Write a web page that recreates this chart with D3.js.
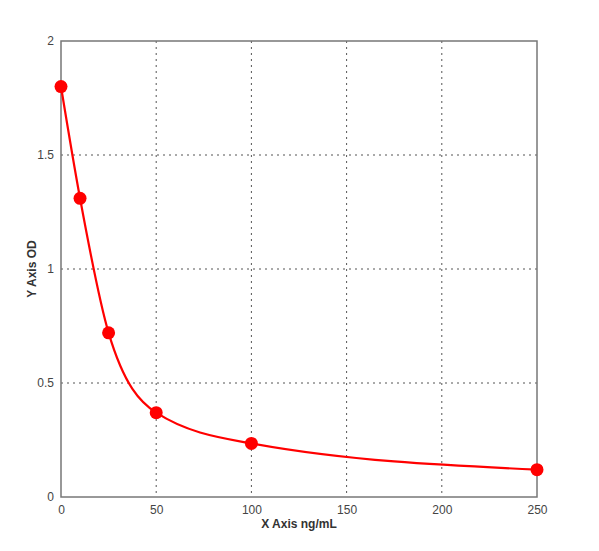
<!DOCTYPE html>
<html>
<head>
<meta charset="utf-8">
<script src="https://cdn.jsdelivr.net/npm/d3@7"></script>
<style>
  body { margin: 0; background: #fff; }
  text { font-family: "Liberation Sans", Arial, sans-serif; }
</style>
</head>
<body>
<svg id="chart" width="599" height="551"></svg>
<script>
// standard curve values
var concentrations = [0, 10, 25, 50, 100, 250];
var odValues = [1.8, 1.31, 0.72, 0.37, 0.235, 0.12];
var xTicks = [0, 50, 100, 150, 200, 250];
var yTicks = [0, 0.5, 1, 1.5, 2];

var svg = d3.select('#chart');
var padding = {t: 41, r: 62, b: 54, l: 61};
var width = 599 - padding.l - padding.r;
var height = 551 - padding.t - padding.b;

var x = d3.scaleLinear().domain([0, 250]).range([0, width]);
var y = d3.scaleLinear().domain([0, 2]).range([height, 0]);

var chartG = svg.append('g')
    .attr('transform', 'translate(' + [padding.l, padding.t] + ')');

// dotted grid
chartG.selectAll('.vgrid')
    .data(xTicks.slice(1, -1))
    .enter().append('line')
    .attr('x1', function(d) { return x(d); })
    .attr('x2', function(d) { return x(d); })
    .attr('y1', 0).attr('y2', height)
    .attr('stroke', '#555').attr('stroke-width', 1)
    .attr('stroke-dasharray', '2,4');

chartG.selectAll('.hgrid')
    .data(yTicks.slice(1, -1))
    .enter().append('line')
    .attr('y1', function(d) { return y(d); })
    .attr('y2', function(d) { return y(d); })
    .attr('x1', 0).attr('x2', width)
    .attr('stroke', '#555').attr('stroke-width', 1)
    .attr('stroke-dasharray', '2,4');

// frame
chartG.append('rect')
    .attr('width', width).attr('height', height)
    .attr('fill', 'none').attr('stroke', '#777').attr('stroke-width', 1.5);

// axes (labels only, the frame draws the lines)
var xAxis = d3.axisBottom(x).tickValues(xTicks).tickSize(0).tickPadding(8);
var xg = chartG.append('g').attr('transform', 'translate(0,' + height + ')').call(xAxis);
var yAxis = d3.axisLeft(y).tickValues(yTicks).tickSize(0).tickPadding(7).tickFormat(d3.format('~g'));
var yg = chartG.append('g').call(yAxis);
[xg, yg].forEach(function(g) {
    g.select('.domain').remove();
    g.selectAll('text')
        .style('font-family', '"Liberation Sans", Arial, sans-serif')
        .style('font-size', '12px')
        .attr('fill', '#444');
});

// fitted curve
var line = d3.line()
    .x(function(d, i) { return x(concentrations[i]); })
    .y(function(d) { return y(d); })
    .curve(d3.curveMonotoneX);

chartG.append('path')
    .datum(odValues)
    .attr('d', line)
    .attr('fill', 'none')
    .attr('stroke', '#ff0000')
    .attr('stroke-width', 2.2);

chartG.selectAll('.pt')
    .data(odValues)
    .enter().append('circle')
    .attr('cx', function(d, i) { return x(concentrations[i]); })
    .attr('cy', function(d) { return y(d); })
    .attr('r', 6.5)
    .attr('fill', '#ff0000');

// axis titles
svg.append('text')
    .attr('x', padding.l + width / 2).attr('y', 528)
    .attr('text-anchor', 'middle')
    .style('font-size', '12px').style('font-weight', 'bold')
    .attr('fill', '#333')
    .text('X Axis ng/mL');

svg.append('text')
    .attr('transform', 'translate(36,' + (padding.t + height / 2) + ') rotate(-90)')
    .attr('text-anchor', 'middle')
    .style('font-size', '12px').style('font-weight', 'bold')
    .attr('fill', '#333')
    .text('Y Axis OD');
</script>
</body>
</html>
